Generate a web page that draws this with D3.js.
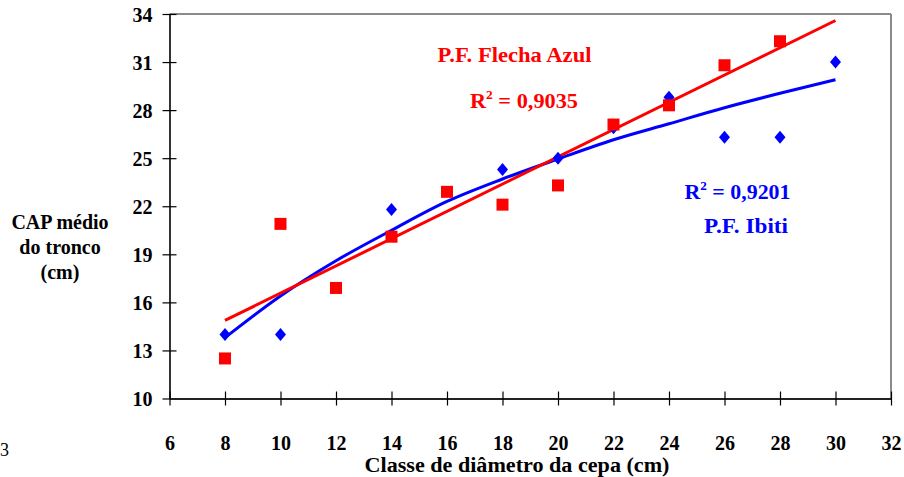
<!DOCTYPE html>
<html>
<head>
<meta charset="utf-8">
<script src="https://cdn.jsdelivr.net/npm/d3@7"></script>
<style>
  html, body { margin: 0; padding: 0; background: #fff; }
  svg { display: block; }
  text { font-family: "Liberation Serif", "Times New Roman", serif; }
</style>
</head>
<body>
<svg id="chart" width="904" height="477"></svg>
<script>
// ---- Data ----
const xTicks = [6, 8, 10, 12, 14, 16, 18, 20, 22, 24, 26, 28, 30, 32];
const yTicks = [10, 13, 16, 19, 22, 25, 28, 31, 34];

// P.F. Flecha Azul (red squares)
const flechaX = [8, 10, 12, 14, 16, 18, 20, 22, 24, 26, 28];
const flechaY = [12.5, 20.9, 16.9, 20.1, 22.9, 22.1, 23.3, 27.1, 28.3, 30.8, 32.3];

// P.F. Ibiti (blue diamonds)
const ibitiX = [8, 10, 14, 18, 20, 22, 24, 26, 28, 30];
const ibitiY = [14.0, 14.0, 21.8, 24.3, 25.0, 26.9, 28.8, 26.3, 26.3, 31.0];

// Ibiti trend curve
const ibitiTrendX = [8, 10, 12, 14, 16, 18, 20, 22, 24, 26, 28, 30];
const ibitiTrendY = [13.8, 16.4, 18.6, 20.5, 22.3, 23.7, 24.95, 26.15, 27.15, 28.15, 29.05, 29.9];

const flechaLabel = "P.F. Flecha Azul";
const flechaR2 = "0,9035";
const ibitiLabel = "P.F. Ibiti";
const ibitiR2 = "0,9201";
const xTitle = "Classe de diâmetro da cepa (cm)";
const yTitleLines = ["CAP médio", "do tronco", "(cm)"];

// ---- Layout ----
const svg = d3.select("#chart");
const x = d3.scaleLinear().domain([6, 32]).range([169.5, 891]);
const y = d3.scaleLinear().domain([10, 34]).range([398.5, 14]);

const RED = "#ff0000", BLUE = "#0000ff";
const FONT = "'Liberation Serif', 'Times New Roman', serif";

// Frame: top and right in grey
svg.append("line").attr("x1", x(6)).attr("x2", x(32)).attr("y1", y(34)).attr("y2", y(34))
  .attr("stroke", "#8a8a8a").attr("stroke-width", 2);
svg.append("line").attr("x1", x(32)).attr("x2", x(32)).attr("y1", y(34)).attr("y2", y(10))
  .attr("stroke", "#8a8a8a").attr("stroke-width", 2);

// Y axis
const yAxis = d3.axisLeft(y).tickValues(yTicks).tickSize(0).tickPadding(0);
const gy = svg.append("g").attr("transform", `translate(${x(6)},0)`).call(yAxis);
gy.attr("font-family", null).attr("font-size", null);
gy.select(".domain").attr("stroke", "#000").attr("stroke-width", 1.6);
gy.selectAll(".tick line").remove();
gy.selectAll(".tick").append("line").attr("x1", -7).attr("x2", 7)
  .attr("stroke", "#000").attr("stroke-width", 1.2);
gy.selectAll(".tick text")
  .attr("x", -17).attr("dy", null).attr("y", 7)
  .attr("font-family", FONT).attr("font-weight", "bold")
  .attr("font-size", 20).attr("fill", "#000").attr("text-anchor", "end");

// X axis
const xAxis = d3.axisBottom(x).tickValues(xTicks).tickSize(0).tickPadding(0);
const gx = svg.append("g").attr("transform", `translate(0,${y(10)})`).call(xAxis);
gx.attr("font-family", null).attr("font-size", null);
gx.select(".domain").attr("stroke", "#222").attr("stroke-width", 2);
gx.selectAll(".tick line").remove();
gx.selectAll(".tick").append("line").attr("y1", -7).attr("y2", 7)
  .attr("stroke", "#000").attr("stroke-width", 1.2);
gx.selectAll(".tick text")
  .attr("y", 51).attr("dy", null)
  .attr("font-family", FONT).attr("font-weight", "bold")
  .attr("font-size", 20).attr("fill", "#000").attr("text-anchor", "middle");

// Axis titles
svg.append("text").attr("x", 517).attr("y", 472).attr("text-anchor", "middle")
  .attr("font-family", FONT).attr("font-weight", "bold").attr("font-size", 20)
  .attr("textLength", 305).attr("lengthAdjust", "spacingAndGlyphs").text(xTitle);

svg.append("g").selectAll("text").data(yTitleLines).join("text")
  .attr("x", 60).attr("y", (d, i) => 229 + i * 25)
  .attr("font-family", FONT)
  .attr("text-anchor", "middle").attr("font-weight", "bold").attr("font-size", 20)
  .text(d => d);

// Stray page number fragment at left edge
svg.append("text").attr("x", 0).attr("y", 456).attr("font-family", FONT)
  .attr("font-size", 18).text("3");

// ---- Trend lines ----
// Blue curve
const ibitiTrend = ibitiTrendX.map((v, i) => [v, ibitiTrendY[i]]);
svg.append("path").datum(ibitiTrend)
  .attr("d", d3.line().x(d => x(d[0])).y(d => y(d[1])).curve(d3.curveMonotoneX))
  .attr("fill", "none").attr("stroke", BLUE).attr("stroke-width", 3);

// Red linear regression (least squares on Flecha Azul data), drawn 8..30
const mx = d3.mean(flechaX), my = d3.mean(flechaY);
const slope = d3.sum(flechaX, (v, i) => (v - mx) * (flechaY[i] - my)) /
              d3.sum(flechaX, v => (v - mx) * (v - mx));
const intercept = my - slope * mx;
const redTrend = [8, 30].map(v => [v, intercept + slope * v]);
svg.append("path").datum(redTrend)
  .attr("d", d3.line().x(d => x(d[0])).y(d => y(d[1])))
  .attr("fill", "none").attr("stroke", RED).attr("stroke-width", 3);

// ---- Markers ----
const ibiti = ibitiX.map((v, i) => [v, ibitiY[i]]);
svg.append("g").selectAll("path").data(ibiti).join("path")
  .attr("transform", d => `translate(${x(d[0])},${y(d[1])})`)
  .attr("d", "M0,-6.5L5.5,0L0,6.5L-5.5,0Z")
  .attr("fill", BLUE);

const flecha = flechaX.map((v, i) => [v, flechaY[i]]);
svg.append("g").selectAll("rect").data(flecha).join("rect")
  .attr("x", d => x(d[0]) - 6).attr("y", d => y(d[1]) - 6)
  .attr("width", 12).attr("height", 12).attr("fill", RED);

// ---- Annotations ----
function r2Label(left, baseline, value, color, width) {
  const t = svg.append("text").attr("x", left).attr("y", baseline)
    .attr("font-family", FONT).attr("font-weight", "bold").attr("font-size", 20)
    .attr("fill", color)
    .attr("textLength", width).attr("lengthAdjust", "spacingAndGlyphs");
  t.append("tspan").text("R");
  t.append("tspan").attr("font-size", 12).attr("dy", -9).text("2");
  t.append("tspan").attr("dy", 9).text(" = " + value);
}

svg.append("text").attr("x", 437.5).attr("y", 62)
  .attr("font-family", FONT).attr("font-weight", "bold").attr("font-size", 20).attr("fill", RED)
  .attr("textLength", 154).attr("lengthAdjust", "spacingAndGlyphs").text(flechaLabel);
r2Label(470, 108, flechaR2, RED, 108);

r2Label(684.5, 199, ibitiR2, BLUE, 106);
svg.append("text").attr("x", 704).attr("y", 233)
  .attr("font-family", FONT).attr("font-weight", "bold").attr("font-size", 20).attr("fill", BLUE)
  .attr("textLength", 84).attr("lengthAdjust", "spacingAndGlyphs").text(ibitiLabel);
</script>
</body>
</html>
